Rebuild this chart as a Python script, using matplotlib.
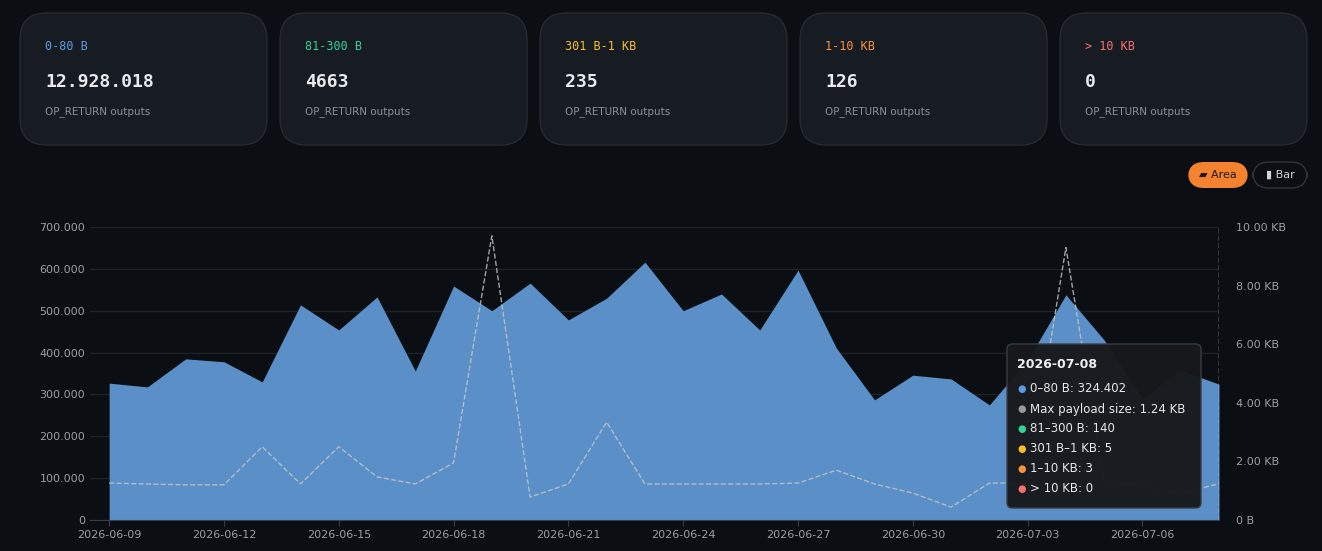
"""
OP_RETURN size buckets dashboard chart
"""

import pandas as pd
import matplotlib.pyplot as plt
from matplotlib import rcParams
from matplotlib.patches import FancyBboxPatch
from matplotlib.ticker import FuncFormatter

# 字型設定
rcParams['font.family'] = ['DejaVu Sans']
rcParams['axes.unicode_minus'] = False

# 每日資料
dates = pd.date_range('2026-06-09', '2026-07-08', freq='D')
small = [327, 318, 385, 378, 330, 514, 454, 533, 356, 559, 500, 566, 478, 530, 616,
         500, 540, 454, 597, 411, 287, 346, 337, 275, 382, 538, 430, 290, 358, 324.402]
small = [v * 1000 for v in small]
max_kb = [1.26, 1.23, 1.2, 1.2, 2.5, 1.23, 2.5, 1.47, 1.23, 1.95, 9.7, 0.78, 1.23, 3.34, 1.23,
          1.23, 1.23, 1.23, 1.26, 1.7, 1.23, 0.92, 0.44, 1.26, 1.26, 9.3, 1.36, 1.15, 0.9, 1.24]

# 卡片
cards = [('0-80 B', '12.928.018', '#5b9be6'), ('81-300 B', '4663', '#34d399'),
         ('301 B-1 KB', '235', '#fbbf24'), ('1-10 KB', '126', '#fb923c'),
         ('> 10 KB', '0', '#f87171')]

bg = '#0b0e12'
fig = plt.figure(figsize=(13.22, 5.51), dpi=100, facecolor=bg)
W, H = 1322, 551

for i, (label, value, color) in enumerate(cards):
    x0 = 20 + i * 260
    fig.patches.append(FancyBboxPatch((x0 / W, 1 - 145 / H), 247 / W, 132 / H,
                                      boxstyle='round,pad=0,rounding_size=0.02',
                                      transform=fig.transFigure, facecolor='#171b22',
                                      edgecolor='#262b33', linewidth=1, mutation_aspect=W / H))
    fig.text((x0 + 25) / W, 1 - 47 / H, label, color=color, fontsize=8.5,
             family='DejaVu Sans Mono', va='center')
    fig.text((x0 + 25) / W, 1 - 82 / H, value, color='#e8eaed', fontsize=13,
             family='DejaVu Sans Mono', fontweight='bold', va='center')
    fig.text((x0 + 25) / W, 1 - 112 / H, 'OP_RETURN outputs', color='#8b9099',
             fontsize=7.5, va='center')

# 切換按鈕
fig.patches.append(FancyBboxPatch((1188 / W, 1 - 188 / H), 60 / W, 26 / H,
                                  boxstyle='round,pad=0,rounding_size=0.012',
                                  transform=fig.transFigure, facecolor='#f5822f',
                                  edgecolor='none', mutation_aspect=W / H))
fig.text(1218 / W, 1 - 175 / H, '▰ Area', color='#1a1a1a', fontsize=8, ha='center', va='center')
fig.patches.append(FancyBboxPatch((1253 / W, 1 - 188 / H), 54 / W, 26 / H,
                                  boxstyle='round,pad=0,rounding_size=0.012',
                                  transform=fig.transFigure, facecolor=bg,
                                  edgecolor='#30353d', mutation_aspect=W / H))
fig.text(1280 / W, 1 - 175 / H, '▮ Bar', color='#d0d3d8', fontsize=8, ha='center', va='center')

# 面積圖
ax = fig.add_axes([90 / W, 1 - 520 / H, 1129 / W, 293 / H])
ax.set_facecolor(bg)
ax.fill_between(dates, small, color='#5a8fc8', linewidth=0)
ax.set_ylim(0, 700000)
ax.set_xlim(dates[0] - pd.Timedelta(hours=12), dates[-1])
ax.set_yticks(range(0, 700001, 100000))
ax.yaxis.set_major_formatter(FuncFormatter(lambda v, p: f'{int(v):,}'.replace(',', '.')))
ax.set_xticks(dates[::3])
ax.set_xticklabels([d.strftime('%Y-%m-%d') for d in dates[::3]])
ax.grid(axis='y', color='#1e232a', linewidth=1)
ax.set_axisbelow(True)
for s in ['top', 'right', 'left']:
    ax.spines[s].set_visible(False)
ax.spines['bottom'].set_color('#3a3f47')
ax.tick_params(colors='#9aa0a6', labelsize=8, length=0)
ax.tick_params(axis='x', length=4, color='#3a3f47')
ax.axvline(dates[-1], color='#dddddd', linestyle='--', linewidth=1)

# 最大負載
ax2 = ax.twinx()
ax2.plot(dates, max_kb, color='#c8c8c8', linestyle='--', linewidth=1, alpha=0.8)
ax2.set_ylim(0, 10)
ax2.set_yticks(range(0, 11, 2))
ax2.set_yticklabels(['0 B'] + [f'{v:.2f} KB' for v in range(2, 11, 2)])
for s in ax2.spines.values():
    s.set_visible(False)
ax2.tick_params(colors='#9aa0a6', labelsize=8, length=0, pad=12)

# 提示框
fig.patches.append(FancyBboxPatch((1007 / W, 1 - 508 / H), 194 / W, 164 / H,
                                  boxstyle='round,pad=0,rounding_size=0.004',
                                  transform=fig.transFigure, facecolor='#17191c',
                                  edgecolor='#3a3d42', alpha=0.97, mutation_aspect=W / H))
fig.text(1017 / W, 1 - 365 / H, '2026-07-08', color='#f0f0f0', fontsize=9,
         fontweight='bold', va='center')
rows = [('#5b9be6', '0–80 B: 324.402'), ('#9a9a9a', 'Max payload size: 1.24 KB'),
        ('#34d399', '81–300 B: 140'), ('#fbbf24', '301 B–1 KB: 5'),
        ('#fb923c', '1–10 KB: 3'), ('#f87171', '> 10 KB: 0')]
for j, (c, t) in enumerate(rows):
    y = 1 - (389 + j * 20) / H
    fig.text(1017 / W, y, '●', color=c, fontsize=7, va='center')
    fig.text(1030 / W, y, t, color='#e8e8e8', fontsize=8.5, va='center')

plt.savefig('out.png', dpi=100, facecolor=bg)
